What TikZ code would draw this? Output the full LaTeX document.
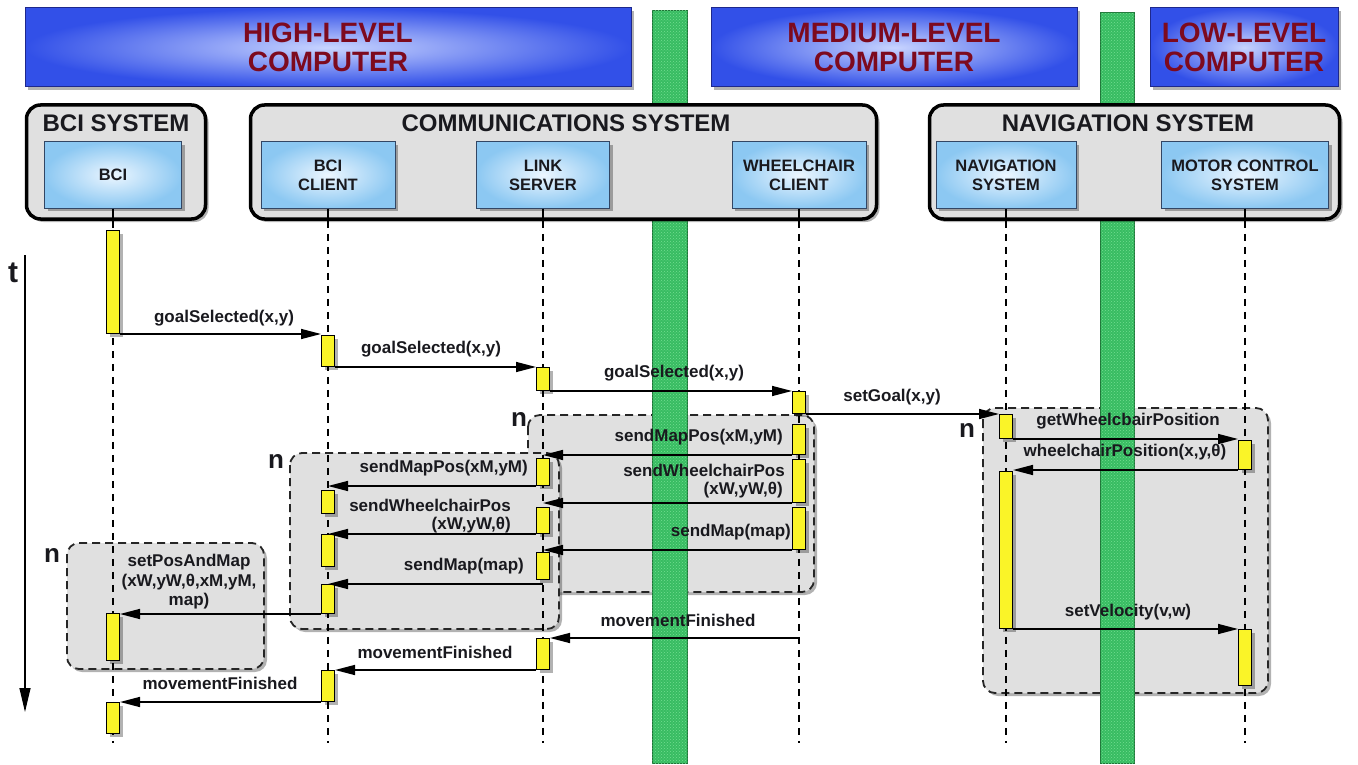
\documentclass[tikz,border=0pt]{standalone}
\usepackage{fontspec}
\setmainfont{Liberation Sans}
\usetikzlibrary{arrows.meta,shadows,patterns}
\definecolor{bannerIn}{RGB}{200,212,255}
\definecolor{bannerOut}{RGB}{50,80,232}
\definecolor{bannerLine}{RGB}{30,40,140}
\definecolor{bannerText}{RGB}{125,10,30}
\definecolor{lifeIn}{RGB}{236,246,255}
\definecolor{lifeOut}{RGB}{140,200,242}
\definecolor{lifeLine}{RGB}{50,70,100}
\definecolor{grayFill}{RGB}{224,224,224}
\definecolor{greenF}{RGB}{56,188,98}
\definecolor{greenB}{RGB}{30,115,55}
\definecolor{greenL}{RGB}{115,222,145}
\definecolor{actY}{RGB}{250,244,40}
\definecolor{actW}{RGB}{255,255,210}
\definecolor{txt}{RGB}{25,25,30}
\begin{document}
\begin{tikzpicture}[x=1pt,y=-1pt,
  shadowed/.style={drop shadow={shadow xshift=3pt,shadow yshift=-3pt,opacity=0.3,fill=black}},
  banner/.style={shadowed, draw=bannerLine, line width=1pt, inner color=bannerIn, outer color=bannerOut,
    text=bannerText, font=\fontsize{28}{29.5}\selectfont\bfseries, align=center, minimum height=79pt, inner sep=0pt},
  sysbox/.style={shadowed, draw=black, line width=3.5pt, rounded corners=14pt, fill=grayFill, minimum height=114pt, inner sep=0pt},
  systitle/.style={font=\fontsize{24}{26}\selectfont\bfseries, inner sep=0pt, text=txt},
  lifebox/.style={shadowed, draw=lifeLine, line width=1pt, inner color=lifeIn, outer color=lifeOut,
    minimum height=66pt, align=center, font=\fontsize{16.5}{19}\selectfont\bfseries, text=txt, inner sep=0pt},
  lifeline/.style={line width=1.5pt, dash pattern=on 7pt off 6pt},
  act/.style={shadowed, draw=black, line width=1pt, left color=actY, middle color=actW, right color=actY,
    minimum width=13pt, inner sep=0pt, anchor=north},
  gbar/.style={draw=greenB, line width=1pt, fill=greenF, postaction={pattern=crosshatch dots, pattern color=greenL},
    inner sep=0pt, anchor=north west},
  loopframe/.style={shadowed, draw=black!85, line width=1.8pt, dash pattern=on 8pt off 5pt, fill=grayFill, rounded corners=12pt},
  msg/.style={line width=1.5pt, -{Triangle[length=20pt,width=10pt]}},
  lbl/.style={font=\fontsize{17}{19.5}\selectfont\bfseries, text=txt, inner sep=0pt},
  nlbl/.style={font=\fontsize{26}{28}\selectfont\bfseries, text=txt, inner sep=0pt}
]
\useasboundingbox (0,0) rectangle (1358,765);

% loop frames
\path[loopframe] (528,415) rectangle (814,592);
\path[loopframe] (290,453) rectangle (559,629);
\path[loopframe] (67,543) rectangle (264,669);
\path[loopframe] (983,408) rectangle (1268,693);

% green separators
\node[gbar, minimum width=35pt, minimum height=753pt] (g1) at (652,10) {};
\node[gbar, minimum width=34pt, minimum height=751pt] (g2) at (1100,12) {};

% banners
\node[banner, minimum width=606pt] (hlc) at (328,47.5) {HIGH-LEVEL\\COMPUTER};
\node[banner, minimum width=366pt] (mlc) at (894,47.5) {MEDIUM-LEVEL\\COMPUTER};
\node[banner, minimum width=188pt] (llc) at (1244,47.5) {LOW-LEVEL\\COMPUTER};

% system boxes
\node[sysbox, minimum width=179pt] (bcisys) at (116,162) {};
\node[sysbox, minimum width=626pt] (comsys) at (563.5,162) {};
\node[sysbox, minimum width=410pt] (navsys) at (1134.5,162) {};
\node[systitle] (bcit) at (116,123) {BCI SYSTEM};
\node[systitle] (comt) at (566,123) {COMMUNICATIONS SYSTEM};
\node[systitle] (navt) at (1128,123) {NAVIGATION SYSTEM};

% lifeline heads
\node[lifebox, minimum width=137pt] (bci) at (113,175) {BCI};
\node[lifebox, minimum width=134pt] (bcl) at (328,175) {BCI\\CLIENT};
\node[lifebox, minimum width=133pt] (lks) at (543,175) {LINK\\SERVER};
\node[lifebox, minimum width=134pt] (whc) at (799,175) {WHEELCHAIR\\CLIENT};
\node[lifebox, minimum width=140pt] (nav) at (1006,175) {NAVIGATION\\SYSTEM};
\node[lifebox, minimum width=167pt] (mot) at (1245,175) {MOTOR CONTROL\\SYSTEM};

% lifelines
\coordinate (bciE) at (113,743);
\coordinate (bclE) at (328,743);
\coordinate (lksE) at (543,743);
\coordinate (whcE) at (799,743);
\coordinate (navE) at (1006,743);
\coordinate (motE) at (1245,743);
\draw[line width=1.5pt] (bci.south) -- (bci.south |- bcisys.south);
\draw[line width=1.5pt] (bcl.south) -- (bcl.south |- comsys.south);
\draw[line width=1.5pt] (lks.south) -- (lks.south |- comsys.south);
\draw[line width=1.5pt] (whc.south) -- (whc.south |- comsys.south);
\draw[line width=1.5pt] (nav.south) -- (nav.south |- navsys.south);
\draw[line width=1.5pt] (mot.south) -- (mot.south |- navsys.south);
\draw[lifeline] (bci.south |- bcisys.south) -- (bciE);
\draw[lifeline] (bcl.south |- comsys.south) -- (bclE);
\draw[lifeline] (lks.south |- comsys.south) -- (lksE);
\draw[lifeline] (whc.south |- comsys.south) -- (whcE);
\draw[lifeline] (nav.south |- navsys.south) -- (navE);
\draw[lifeline] (mot.south |- navsys.south) -- (motE);

% time axis
\coordinate (tA) at (25,255);
\coordinate (tB) at (25,712);
\draw[line width=1.3pt, -{Triangle[length=24pt,width=11pt]}] (tA) -- (tB);
\node[font=\fontsize{30}{30}\selectfont\bfseries, text=txt, inner sep=0pt] (tl) at (13,273) {t};

% activation bars
\node[act, minimum height=103pt] (b1) at (113,230) {};
\node[act, minimum height=47pt] (b2) at (113,613) {};
\node[act, minimum height=31pt] (b3) at (113,702) {};
\node[act, minimum height=31pt] (c1) at (328,335) {};
\node[act, minimum height=23pt] (c2) at (328,490) {};
\node[act, minimum height=32pt] (c3) at (328,534) {};
\node[act, minimum height=29pt] (c4) at (328,584) {};
\node[act, minimum height=31pt] (c5) at (328,670) {};
\node[act, minimum height=23pt] (l1) at (543,367) {};
\node[act, minimum height=27pt] (l2) at (543,458) {};
\node[act, minimum height=26pt] (l3) at (543,507) {};
\node[act, minimum height=27pt] (l4) at (543,552) {};
\node[act, minimum height=31pt] (l5) at (543,638) {};
\node[act, minimum height=22pt] (w1) at (799,391) {};
\node[act, minimum height=30pt] (w2) at (799,424) {};
\node[act, minimum height=43pt] (w3) at (799,459) {};
\node[act, minimum height=42pt] (w4) at (799,507) {};
\node[act, minimum height=24pt] (n1) at (1006,414) {};
\node[act, minimum height=157pt] (n2) at (1006,471) {};
\node[act, minimum height=29pt] (m1) at (1245,440) {};
\node[act, minimum height=56pt] (m2) at (1245,629) {};

% messages
\draw[msg] (b1.south east) -- (b1.south east -| c1.west);
\draw[msg] (c1.south east) -- (c1.south east -| l1.west);
\draw[msg] (l1.south east) -- (l1.south east -| w1.west);
\draw[msg] (w1.south east) -- (w1.south east -| n1.west);
\draw[msg] (n1.south east) -- (n1.south east -| m1.west);
\draw[msg] (m1.south west) -- (m1.south west -| n2.east);
\draw[msg] (w2.south west) -- (w2.south west -| lksE);
\draw[msg] (w3.south west) -- (w3.south west -| lksE);
\draw[msg] (w4.south west) -- (w4.south west -| lksE);
\draw[msg] (l2.south west) -- (l2.south west -| bclE);
\draw[msg] (l3.south west) -- (l3.south west -| bclE);
\draw[msg] (c4.north -| lksE) -- (c4.north);
\draw[msg] (c4.south west) -- (c4.south west -| b2.east);
\draw[msg] (l5.north east -| whcE) -- (l5.north east);
\draw[msg] (l5.south west) -- (l5.south west -| c5.east);
\draw[msg] (c5.south west) -- (c5.south west -| b3.east);
\draw[msg] (n2.south east) -- (n2.south east -| m2.west);

% message labels
\node[lbl] (m1l) at (224,318) {goalSelected(x,y)};
\node[lbl] (m2l) at (431,349) {goalSelected(x,y)};
\node[lbl] (m3l) at (674,373) {goalSelected(x,y)};
\node[lbl] (m4l) at (892,397) {setGoal(x,y)};
\node[lbl] (m5l) at (1128,421) {getWheelcbairPosition};
\node[lbl] (m6l) at (1125,452) {wheelchairPosition(x,y,θ)};
\node[lbl, anchor=east] (m7l) at (783,437) {sendMapPos(xM,yM)};
\node[lbl, anchor=east] (m8l) at (785,470) {sendWheelchairPos};
\node[lbl, anchor=east] (m8m) at (783,490) {(xW,yW,θ)};
\node[lbl, anchor=east] (m9l) at (791,532) {sendMap(map)};
\node[lbl, anchor=east] (m10l) at (528,468) {sendMapPos(xM,yM)};
\node[lbl, anchor=east] (m11l) at (511,505) {sendWheelchairPos};
\node[lbl, anchor=east] (m11m) at (511,525) {(xW,yW,θ)};
\node[lbl, anchor=east] (m12l) at (524,566) {sendMap(map)};
\node[lbl, align=center] (m13l) at (189,582) {setPosAndMap\\(xW,yW,θ,xM,yM,\\map)};
\node[lbl] (m14l) at (678,620) {movementFinished};
\node[lbl] (m15l) at (435,652) {movementFinished};
\node[lbl] (m16l) at (220,683) {movementFinished};
\node[lbl] (m17l) at (1128,612) {setVelocity(v,w)};

% loop markers
\node[nlbl] (nA) at (519,419) {n};
\node[nlbl] (nB) at (276,461) {n};
\node[nlbl] (nC) at (52,555) {n};
\node[nlbl] (nD) at (967,430) {n};
\end{tikzpicture}
\end{document}
